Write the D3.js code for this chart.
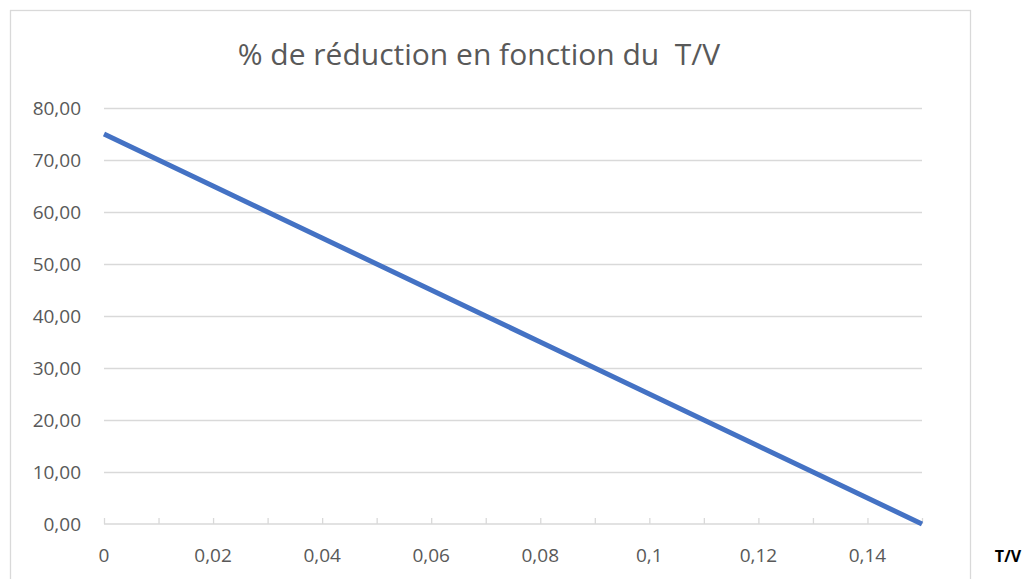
<!DOCTYPE html>
<html>
<head>
<meta charset="utf-8">
<script src="https://cdn.jsdelivr.net/npm/d3@7"></script>
<style>
  body { margin: 0; background: #fff; }
  svg { font-family: "Open Sans", "Noto Sans", sans-serif; }
</style>
</head>
<body>
<div id="chart"></div>
<script>
// data
var tvValues = [0, 0.01, 0.02, 0.03, 0.04, 0.05, 0.06, 0.07, 0.08, 0.09, 0.10, 0.11, 0.12, 0.13, 0.14, 0.15];
var reduction = [75, 70, 65, 60, 55, 50, 45, 40, 35, 30, 25, 20, 15, 10, 5, 0];
var yTicks = [0, 10, 20, 30, 40, 50, 60, 70, 80];
var xLabelTicks = [0, 0.02, 0.04, 0.06, 0.08, 0.1, 0.12, 0.14];
var xMinorTicks = [0, 0.01, 0.02, 0.03, 0.04, 0.05, 0.06, 0.07, 0.08, 0.09, 0.1, 0.11, 0.12, 0.13, 0.14, 0.15];

var svgWidth = 1027;
var svgHeight = 579;

var margin = { top: 108, right: 105, bottom: 55, left: 104 };
var width = svgWidth - margin.left - margin.right;
var height = svgHeight - margin.top - margin.bottom;

var svg = d3.select("#chart")
  .append("svg")
  .attr("width", svgWidth)
  .attr("height", svgHeight);

// chart border
svg.append("rect")
  .attr("x", 10.5)
  .attr("y", 10.5)
  .attr("width", 960)
  .attr("height", 580)
  .attr("fill", "#fff")
  .attr("stroke", "#d9d9d9")
  .attr("stroke-width", 1.3);

var chartGroup = svg.append("g")
  .attr("transform", `translate(${margin.left}, ${margin.top})`);

var xScale = d3.scaleLinear()
  .domain([0, 0.15])
  .range([0, width]);

var yScale = d3.scaleLinear()
  .domain([0, 80])
  .range([height, 0]);

var fmt = function(v) { return d3.format(".2f")(v).replace(".", ","); };

// gridlines
chartGroup.selectAll(".grid")
  .data(yTicks.filter(d => d > 0))
  .enter()
  .append("line")
  .attr("class", "grid")
  .attr("x1", 0)
  .attr("x2", width)
  .attr("y1", d => Math.round(yScale(d)) + 0.5)
  .attr("y2", d => Math.round(yScale(d)) + 0.5)
  .attr("stroke", "#d9d9d9")
  .attr("stroke-width", 1.3);

// y labels
chartGroup.selectAll(".ylab")
  .data(yTicks)
  .enter()
  .append("text")
  .attr("x", -23)
  .attr("y", d => yScale(d))
  .attr("dy", "0.36em")
  .attr("text-anchor", "end")
  .attr("font-size", "19px")
  .attr("fill", "#595959")
  .text(d => fmt(d));

// x axis with upward tick marks
var xAxis = d3.axisTop(xScale)
  .tickValues(xMinorTicks)
  .tickSize(6)
  .tickFormat("");

var xAxisG = chartGroup.append("g")
  .attr("transform", `translate(0, ${height})`)
  .call(xAxis);
xAxisG.select(".domain").attr("stroke", "#d9d9d9").attr("stroke-width", 1.3).attr("d", `M0,0H${width}`);
xAxisG.selectAll(".tick line").attr("stroke", "#d9d9d9").attr("stroke-width", 1.3);

chartGroup.selectAll(".xlab")
  .data(xLabelTicks)
  .enter()
  .append("text")
  .attr("x", d => xScale(d))
  .attr("y", height + 38)
  .attr("text-anchor", "middle")
  .attr("font-size", "19px")
  .attr("fill", "#595959")
  .text(d => d === 0 ? "0" : String(d).replace(".", ","));

// the series
var points = tvValues.map((t, i) => ({ x: t, y: reduction[i] }));
var line = d3.line()
  .x(d => xScale(d.x))
  .y(d => yScale(d.y));

chartGroup.append("path")
  .datum(points)
  .attr("d", line)
  .attr("fill", "none")
  .attr("stroke", "#4472c4")
  .attr("stroke-width", 5);

// title
svg.append("text")
  .attr("x", 479)
  .attr("y", 65)
  .attr("text-anchor", "middle")
  .attr("font-size", "30px")
  .attr("fill", "#595959")
  .style("white-space", "pre")
  .text("% de réduction en fonction du  T/V");

// axis title
svg.append("text")
  .attr("x", 1008)
  .attr("y", 562)
  .attr("text-anchor", "middle")
  .attr("font-size", "16px")
  .attr("font-weight", "bold")
  .attr("fill", "#000")
  .text("T/V");
</script>
</body>
</html>
